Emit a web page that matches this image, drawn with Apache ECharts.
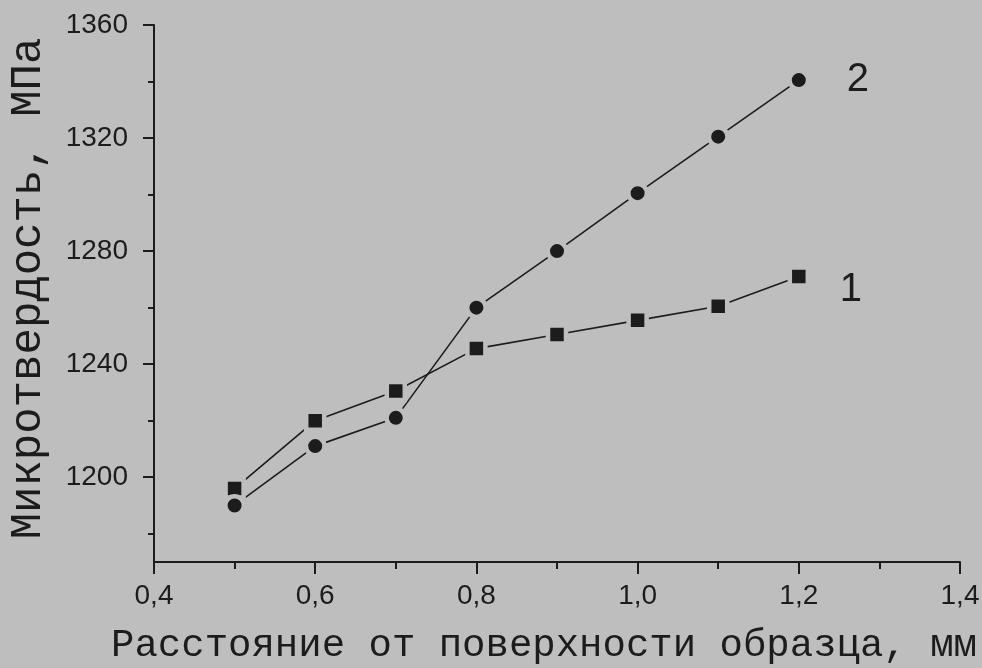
<!DOCTYPE html>
<html>
<head>
<meta charset="utf-8">
<script src="https://cdn.jsdelivr.net/npm/echarts@6/dist/echarts.min.js"></script>
<style>
html,body{margin:0;padding:0;background:#bebebe;}
#chart{width:982px;height:668px;}
</style>
</head>
<body>
<div id="chart"></div>
<script>
// Data
const distances = [0.5, 0.6, 0.7, 0.8, 0.9, 1.0, 1.1, 1.2];
const series1 = [1196, 1220, 1230.5, 1245.5, 1250.5, 1255.5, 1260.5, 1271];
const series2 = [1190, 1211, 1221, 1260, 1280, 1300.5, 1320.5, 1340.5];
const yMajorTicks = [1200, 1240, 1280, 1320, 1360];
const yMinorTicks = [1180, 1220, 1260, 1300, 1340];
const seriesNames = ['1', '2'];

const BG = '#bebebe';
const INK = '#1c1c1c';

const chart = echarts.init(document.getElementById('chart'), null, {renderer: 'canvas'});

function pairs(xs, ys) { return xs.map((x, i) => [x, ys[i]]); }

const option = {
  backgroundColor: BG,
  animation: false,
  grid: {left: 154, right: 22, top: 25, bottom: 106, containLabel: false, outerBoundsMode: 'none'},
  xAxis: {
    type: 'value',
    min: 0.4, max: 1.4, interval: 0.2,
    name: 'Расстояние от поверхности образца, мм',
    nameLocation: 'middle',
    nameGap: 64,
    nameTextStyle: {fontFamily: '"Courier New", "Liberation Mono", monospace', fontSize: 39, color: INK, padding: [0, 26, 0, 0]},
    axisLine: {show: true, lineStyle: {color: INK, width: 2}},
    axisTick: {show: true, length: 12, inside: false, lineStyle: {color: INK, width: 2}},
    minorTick: {show: true, splitNumber: 2, length: 7, lineStyle: {color: INK, width: 2}},
    splitLine: {show: false},
    axisLabel: {
      fontFamily: 'Arial, "Liberation Sans", sans-serif', fontSize: 28, color: INK, margin: 20,
      formatter: v => v.toFixed(1).replace('.', ',')
    }
  },
  yAxis: [{
    type: 'value',
    min: 1170, max: 1360,
    position: 'left',
    name: 'Микротвердость, МПа',
    nameLocation: 'middle',
    nameGap: 104,
    nameRotate: 90,
    nameTextStyle: {fontFamily: '"Courier New", "Liberation Mono", monospace', fontSize: 44, color: INK, padding: [0, 0, 0, 10]},
    axisLine: {show: true, lineStyle: {color: INK, width: 2}},
    axisTick: {show: true, length: 11, customValues: yMajorTicks, lineStyle: {color: INK, width: 2}},
    splitLine: {show: false},
    axisLabel: {
      customValues: yMajorTicks,
      fontFamily: 'Arial, "Liberation Sans", sans-serif', fontSize: 28, color: INK, margin: 26,
      formatter: v => String(Math.round(v))
    }
  }, {
    type: 'value',
    min: 1170, max: 1360,
    position: 'left',
    offset: 0,
    axisLine: {show: false},
    axisTick: {show: true, length: 6, customValues: yMinorTicks, lineStyle: {color: INK, width: 2}},
    axisLabel: {show: false},
    splitLine: {show: false}
  }],
  series: [{
    name: seriesNames[0],
    type: 'line',
    data: pairs(distances, series1),
    symbol: 'rect',
    symbolSize: 18,
    lineStyle: {color: INK, width: 1.6},
    itemStyle: {color: INK, borderColor: BG, borderWidth: 4.5},
    endLabel: {show: true, formatter: seriesNames[0], distance: 41, offset: [0, 13],
      fontFamily: 'Arial, "Liberation Sans", sans-serif', fontSize: 40, color: INK},
    z: 3
  }, {
    name: seriesNames[1],
    type: 'line',
    data: pairs(distances, series2),
    symbol: 'circle',
    symbolSize: 18.5,
    lineStyle: {color: INK, width: 1.6},
    itemStyle: {color: INK, borderColor: BG, borderWidth: 4.5},
    endLabel: {show: true, formatter: seriesNames[1], distance: 48, offset: [0, 0],
      fontFamily: 'Arial, "Liberation Sans", sans-serif', fontSize: 40, color: INK},
    z: 3
  }]
};
chart.setOption(option);
</script>
</body>
</html>
